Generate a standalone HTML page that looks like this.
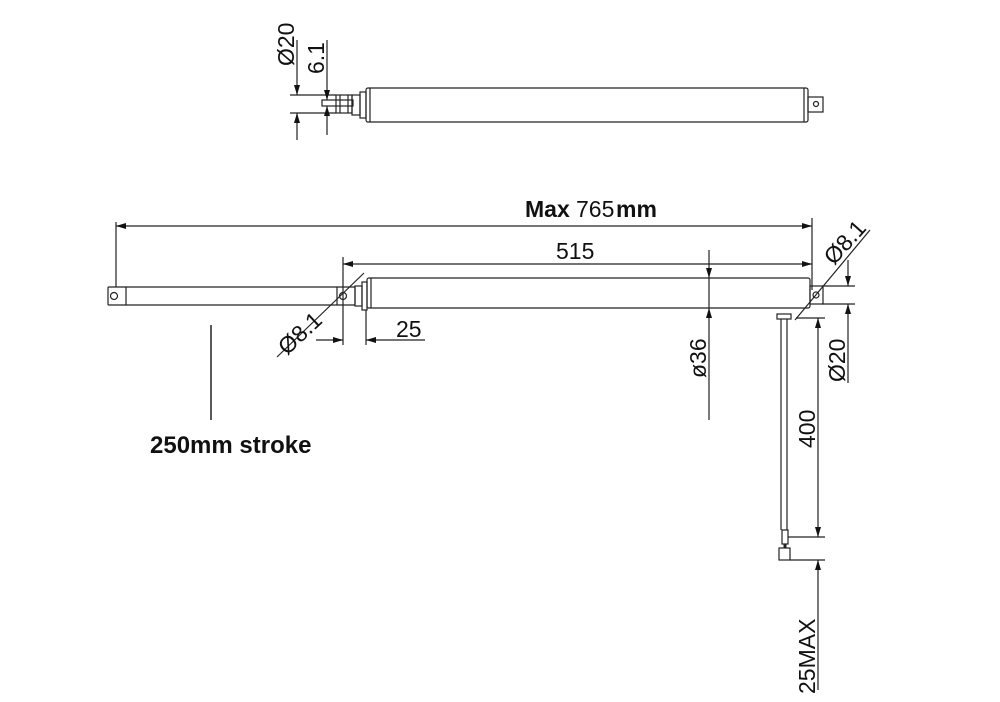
<!DOCTYPE html>
<html><head><meta charset="utf-8"><style>
html,body{margin:0;padding:0;background:#fff;}
svg{display:block;}
text{font-family:"Liberation Sans",Arial,sans-serif;fill:#111;}
</style></head><body>
<svg width="1000" height="702" viewBox="0 0 1000 702" xmlns="http://www.w3.org/2000/svg">
<defs>
<marker id="a" viewBox="0 0 10 6" refX="10" refY="3" markerWidth="10" markerHeight="6" orient="auto-start-reverse" markerUnits="userSpaceOnUse"><path d="M0,0 L10,3 L0,6 Z" fill="#111"/></marker>
</defs>
<g stroke="#222" stroke-width="1.2" fill="none">
<rect x="366" y="88" width="442" height="34" rx="2"/>
<line x1="370" y1="88" x2="370" y2="122"/>
<line x1="804" y1="88" x2="804" y2="122"/>
<rect x="808" y="97" width="15" height="15"/>
<circle cx="816" cy="104" r="2.5"/>
<rect x="360" y="92" width="6" height="26"/>
<rect x="352" y="95" width="8" height="20"/>
<rect x="336" y="95" width="16" height="18"/>
<line x1="340" y1="95" x2="340" y2="113"/>
<line x1="348" y1="95" x2="348" y2="113"/>
<rect x="322" y="100" width="31" height="6"/>
<line x1="290" y1="95" x2="336" y2="95"/>
<line x1="290" y1="113" x2="336" y2="113"/>
<line x1="297" y1="40" x2="297" y2="95" marker-end="url(#a)"/>
<line x1="297" y1="140" x2="297" y2="113" marker-end="url(#a)"/>
<line x1="327" y1="40" x2="327" y2="100" marker-end="url(#a)"/>
<line x1="327" y1="135" x2="327" y2="106" marker-end="url(#a)"/>

<rect x="108" y="287" width="247" height="18" rx="1"/>
<line x1="126" y1="287" x2="126" y2="305"/>
<line x1="337" y1="287" x2="337" y2="305"/>
<circle cx="114" cy="296" r="3.5"/>
<circle cx="343" cy="296" r="3.5"/>
<rect x="355" y="286" width="7" height="20"/>
<rect x="362" y="282" width="5" height="28"/>
<rect x="367" y="278" width="443" height="30" rx="2"/>
<line x1="371" y1="278" x2="371" y2="308"/>
<rect x="810" y="286" width="13" height="18"/>
<circle cx="816" cy="295" r="3"/>
<line x1="116" y1="222" x2="116" y2="287"/>
<line x1="812" y1="218" x2="812" y2="290"/>
<line x1="116" y1="226" x2="812" y2="226" marker-start="url(#a)" marker-end="url(#a)"/>
<line x1="343" y1="257" x2="343" y2="345"/>
<line x1="343" y1="264" x2="812" y2="264" marker-start="url(#a)" marker-end="url(#a)"/>
<line x1="366" y1="310" x2="366" y2="345"/>
<line x1="316" y1="340" x2="343" y2="340" marker-end="url(#a)"/>
<line x1="425" y1="340" x2="366" y2="340" marker-end="url(#a)"/>
<line x1="277" y1="357" x2="364" y2="273"/>
<line x1="795" y1="320" x2="870" y2="230"/>
<line x1="709" y1="250" x2="709" y2="278" marker-end="url(#a)"/>
<line x1="709" y1="420" x2="709" y2="308" marker-end="url(#a)"/>
<line x1="709" y1="278" x2="709" y2="308"/>
<line x1="822" y1="286" x2="855" y2="286"/>
<line x1="822" y1="304" x2="855" y2="304"/>
<line x1="848" y1="260" x2="848" y2="286" marker-end="url(#a)"/>
<line x1="848" y1="383" x2="848" y2="304" marker-end="url(#a)"/>
<rect x="777" y="314" width="14" height="5"/>
<line x1="781" y1="319" x2="781" y2="530"/>
<line x1="787" y1="319" x2="787" y2="530"/>
<rect x="782" y="530" width="6" height="14"/>
<rect x="779" y="548" width="11" height="12"/>
<line x1="785" y1="544" x2="785" y2="548" stroke-width="3"/>
<line x1="796" y1="318" x2="825" y2="318"/>
<line x1="788" y1="537" x2="825" y2="537"/>
<line x1="790" y1="560" x2="825" y2="560"/>
<line x1="818" y1="318" x2="818" y2="537" marker-start="url(#a)" marker-end="url(#a)"/>
<line x1="818" y1="690" x2="818" y2="560" marker-end="url(#a)"/>
<line x1="211" y1="325" x2="211" y2="420" stroke-width="1.5"/>
</g>
<text x="0" y="0" font-size="23" transform="translate(294,66) rotate(-90)">Ø20</text>
<text x="0" y="0" font-size="23" transform="translate(324,74) rotate(-90)">6.1</text>
<text x="525" y="217" font-size="23" font-weight="bold">Max</text>
<text x="576" y="217" font-size="23">765</text>
<text x="616" y="217" font-size="23" font-weight="bold">mm</text>
<text x="556" y="259" font-size="23">515</text>
<text x="396" y="337" font-size="23">25</text>
<text x="0" y="0" font-size="23" transform="translate(287,356) rotate(-43)">Ø8.1</text>
<text x="0" y="0" font-size="23" transform="translate(834,266) rotate(-48)">Ø8.1</text>
<text x="0" y="0" font-size="23" transform="translate(706,378) rotate(-90)">ø36</text>
<text x="0" y="0" font-size="23" transform="translate(845,382) rotate(-90)">Ø20</text>
<text x="0" y="0" font-size="23" transform="translate(815,448) rotate(-90)">400</text>
<text x="0" y="0" font-size="23" transform="translate(815,694) rotate(-90)">25MAX</text>
<text x="150" y="453" font-size="24" font-weight="bold">250mm stroke</text>
</svg>
</body></html>
